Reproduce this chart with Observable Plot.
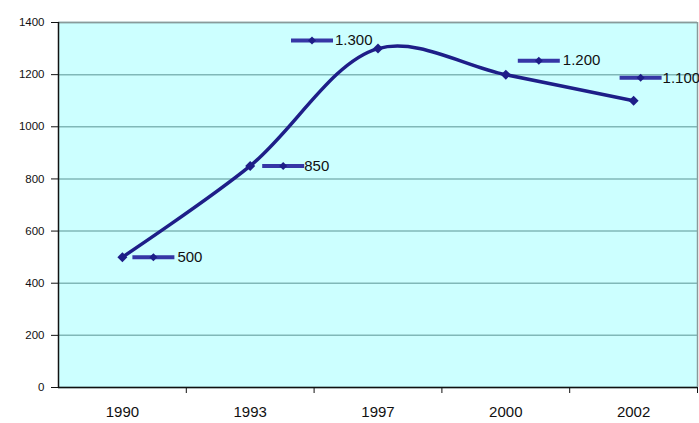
<!DOCTYPE html>
<html><head><meta charset="utf-8">
<script src="https://cdn.jsdelivr.net/npm/d3@7"></script>
<script src="https://cdn.jsdelivr.net/npm/@observablehq/plot@0.6"></script>
<style>body{margin:0;background:#fff}</style>
</head><body><div id="chart"></div>
<script>
const years = ["1990", "1993", "1997", "2000", "2002"];
const values = [500, 850, 1300, 1200, 1100];
const valueLabels = ["500", "850", "1.300", "1.200", "1.100"];
const yTicks = [0, 200, 400, 600, 800, 1000, 1200, 1400];

const data = years.map((year, i) => ({i, year, value: values[i], label: valueLabels[i]}));

// label layout (px offsets from each point): key centre dx, dy, text start dx
const labelLayout = [[31, 0, 55], [33, 0, 54], [-66, -8, -43], [33, -14, 57], [7, -23, 29]];

const lineColor = "#1e1e88";
const keyColor = "#3636a6";
const fontFamily = "'Liberation Sans', Arial, sans-serif";

const diamond = {draw(ctx, size) { const s = 5; ctx.moveTo(0, -s); ctx.lineTo(s, 0); ctx.lineTo(0, s); ctx.lineTo(-s, 0); ctx.closePath(); }};
const smallDiamond = {draw(ctx, size) { const s = 4; ctx.moveTo(0, -s); ctx.lineTo(s, 0); ctx.lineTo(0, s); ctx.lineTo(-s, 0); ctx.closePath(); }};
const keyBar = {draw(ctx, size) { ctx.moveTo(-21, -2); ctx.lineTo(21, -2); ctx.lineTo(21, 2); ctx.lineTo(-21, 2); ctx.closePath(); }};

const labelMarks = data.flatMap((d, k) => {
  const [kdx, kdy, tdx] = labelLayout[k];
  return [
    Plot.dot([d], {x: "i", y: "value", symbol: keyBar, fill: keyColor, stroke: "none", dx: kdx, dy: kdy}),
    Plot.dot([d], {x: "i", y: "value", symbol: smallDiamond, fill: lineColor, stroke: "none", dx: kdx, dy: kdy}),
    Plot.text([d], {x: "i", y: "value", text: "label", dx: tdx, dy: kdy, textAnchor: "start", fill: "#111", fontSize: 15, fontFamily})
  ];
});

const chart = Plot.plot({
  width: 699,
  height: 423,
  marginLeft: 58,
  marginRight: 2,
  marginTop: 22,
  marginBottom: 36,
  style: {fontFamily, background: "#fff", overflow: "hidden"},
  x: {type: "linear", domain: [-0.5, 4.5], axis: null},
  y: {domain: [0, 1400], axis: null},
  marks: [
    Plot.frame({fill: "#ccffff", stroke: "none"}),
    Plot.gridY(yTicks, {stroke: "#80b8b8", strokeOpacity: 1, strokeWidth: 1.5}),
    Plot.ruleY([1400], {stroke: "#8a9a9a", strokeWidth: 1.5}),
    Plot.ruleX([4.5], {stroke: "#8a9a9a", strokeWidth: 1.5}),
    Plot.axisY(yTicks, {label: null, tickSize: 7, tickPadding: 7, tickFormat: d => String(d), fontSize: 11.5, fill: "#111", stroke: "#111"}),
    Plot.axisX([0, 1, 2, 3, 4], {label: null, tickSize: 0, tickPadding: 19, tickFormat: i => years[i], fontSize: 15, fill: "#111"}),
    Plot.axisX([0.5, 1.5, 2.5, 3.5, 4.5], {label: null, tickSize: 6, tickFormat: () => "", stroke: "#111"}),
    Plot.ruleX([-0.5], {stroke: "#111", strokeWidth: 1.5}),
    Plot.ruleY([0], {stroke: "#111", strokeWidth: 1.5}),
    Plot.line(data, {x: "i", y: "value", curve: "catmull-rom", stroke: lineColor, strokeWidth: 3.5}),
    Plot.dot(data, {x: "i", y: "value", symbol: diamond, fill: lineColor, stroke: "none"}),
    ...labelMarks
  ]
});
document.getElementById("chart").appendChild(chart);
</script>
</body></html>
